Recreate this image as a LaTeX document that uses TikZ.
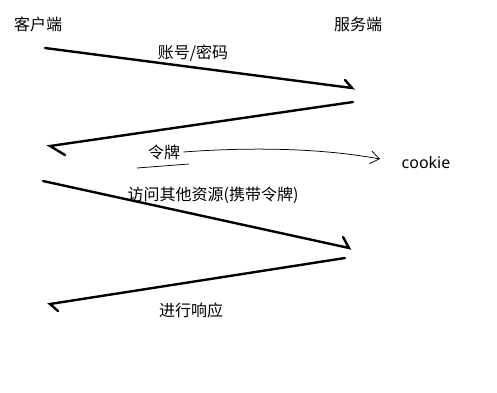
\documentclass[tikz,border=0pt]{standalone}
\usepackage{fontspec}
\setmainfont{Noto Sans}
\newfontfamily\cjk{Noto Sans CJK SC}
\usetikzlibrary{arrows.meta,positioning}
\tikzset{every picture/.style={line width=0.75pt}}

\begin{document}
\begin{tikzpicture}[x=1pt,y=-1pt,
    word/.style={font=\cjk\fontsize{16}{18}\selectfont, inner sep=0pt},
    msg/.style={line width=2.4pt, line cap=round, black}]
    \useasboundingbox (0,0) rectangle (497,392);

    % 两端
    \node[word] (client) at (38,24) {客户端};
    \node[word] (server) at (358,24) {服务端};

    % 发送账号密码
    \coordinate (a1) at (45,48);
    \coordinate (b1) at (352,88);
    \draw[msg] (a1) -- (b1) -- ++(-7,-8);
    \node[word] (login) at (193,53) {账号/密码};

    % 返回令牌
    \coordinate (a2) at (353,102);
    \coordinate (b2) at (50,146);
    \draw[msg] (a2) -- (b2) -- ++(15,9);
    \node[word] (token) at (164,152) {令牌};
    \draw (137,168) -- (189,164);

    % 令牌存到 cookie
    \node[font=\fontsize{16}{18}\selectfont, inner sep=0pt] (cookie) at (426,162) {cookie};
    \draw[-{Straight Barb[length=9pt,width=13pt]}]
        (token.east) ++(3,0) .. controls (250,147) and (320,148) .. (380,159);

    % 携带令牌访问
    \coordinate (a3) at (43,181);
    \coordinate (b3) at (349,248);
    \draw[msg] (a3) -- (b3) -- ++(-6,-11);
    \node[word] (visit) at (213,195) {访问其他资源(携带令牌)};

    % 服务端响应
    \coordinate (a4) at (345,258);
    \coordinate (b4) at (50,304);
    \draw[msg] (a4) -- (b4) -- ++(8,7);
    \node[word] (reply) at (191,310) {进行响应};
\end{tikzpicture}
\end{document}
